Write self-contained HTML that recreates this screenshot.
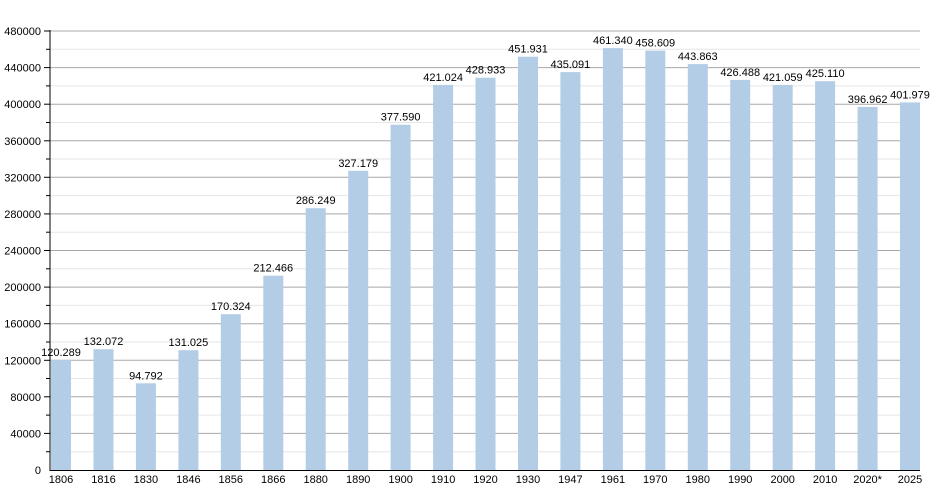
<!DOCTYPE html>
<html><head><meta charset="utf-8"><style>html,body{margin:0;padding:0;background:#fff}svg{display:block}</style></head>
<body>
<svg id="c" width="950" height="500" xmlns="http://www.w3.org/2000/svg" font-family="Liberation Sans, Arial, sans-serif"></svg>
<script>
var s=document.getElementById('c'),h='';
function Y(v){return 470-v*439/480000;}
for(var v=20000;v<=480000;v+=20000){var y=Y(v).toFixed(1);
 var maj=v%40000==0;
 h+='<line x1="50" x2="920" y1="'+y+'" y2="'+y+'" stroke="'+(maj?'#a8a8a8':'#e6e6e6')+'" stroke-width="1"/>';
 h+='<line x1="'+(maj?44:46)+'" x2="50" y1="'+y+'" y2="'+y+'" stroke="#000"/>';
}
for(var v=0;v<=480000;v+=40000){h+='<text x="41" y="'+(Y(v)+4)+'" font-size="11" text-anchor="end" fill="#000">'+v+'</text>';}
var d=[["1806",120289],["1816",132072],["1830",94792],["1846",131025],["1856",170324],["1866",212466],["1880",286249],["1890",327179],["1900",377590],["1910",421024],["1920",428933],["1930",451931],["1947",435091],["1961",461340],["1970",458609],["1980",443863],["1990",426488],["2000",421059],["2010",425110],["2020*",396962],["2025",401979]];
for(var i=0;i<d.length;i++){var x=51+i*42.45,y=Y(d[i][1]);
 h+='<rect x="'+x.toFixed(1)+'" y="'+y.toFixed(1)+'" width="20" height="'+(470-y).toFixed(1)+'" fill="#b3cde6"/>';
 var lbl=String(d[i][1]);lbl=lbl.slice(0,lbl.length-3)+'.'+lbl.slice(-3);
 h+='<text x="'+(x+10).toFixed(1)+'" y="'+(y-4).toFixed(1)+'" font-size="11" text-anchor="middle" fill="#000">'+lbl+'</text>';
 h+='<text x="'+(x+10).toFixed(1)+'" y="483" font-size="11" text-anchor="middle" fill="#000">'+d[i][0]+'</text>';
}
h+='<line x1="50" x2="50" y1="30" y2="470.5" stroke="#000"/><line x1="49.5" x2="920" y1="470.5" y2="470.5" stroke="#000"/>';
s.innerHTML=h;
</script>
</body></html>
